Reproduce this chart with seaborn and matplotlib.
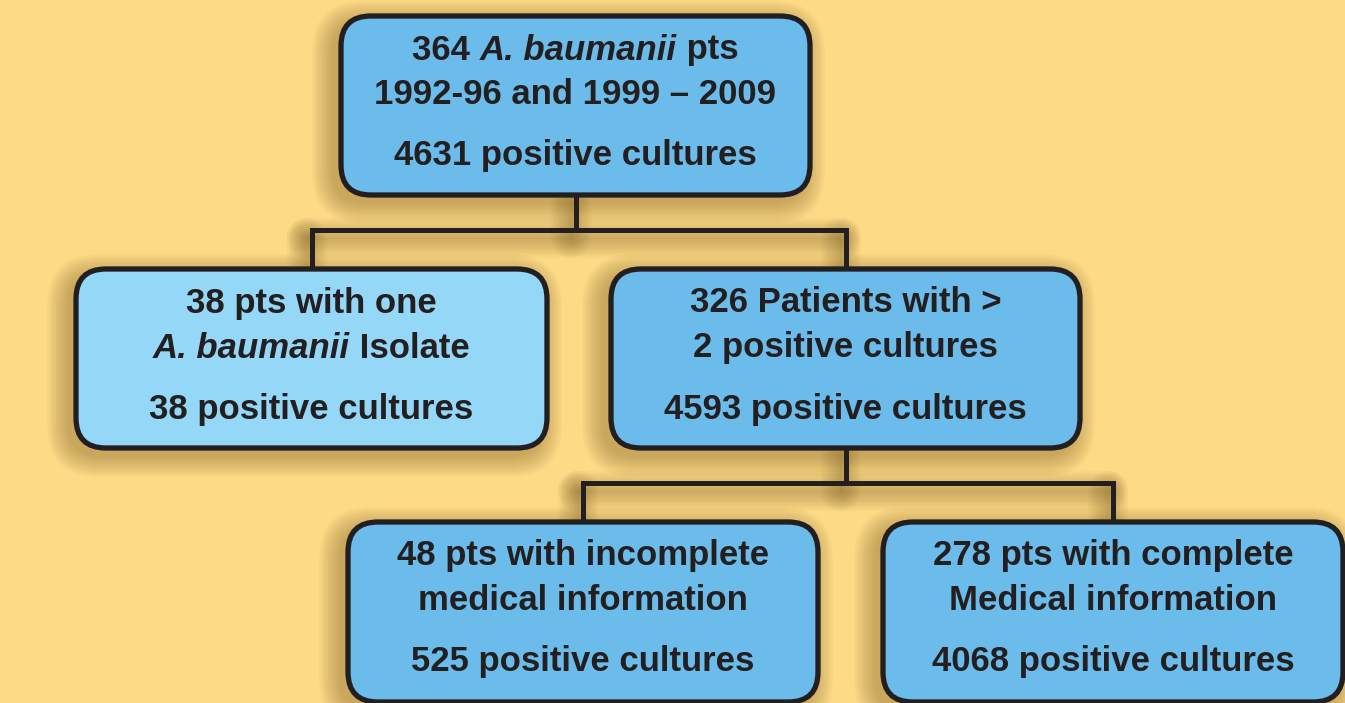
import matplotlib
matplotlib.use("Agg")
import matplotlib.pyplot as plt
import seaborn as sns
from matplotlib.patches import FancyBboxPatch

sns.set_theme(style="white")
plt.rcParams['font.family'] = ['Liberation Sans', 'DejaVu Sans']

# ---- data: node labels (each line is a list of (text, italic) runs) ----
node_ids = ["all", "one", "multi", "incomplete", "complete"]
node_lines = {
    "all": [[("364 ", False), ("A. baumanii", True), (" pts", False)],
            [("1992-96 and 1999 \u2013 2009", False)],
            [("4631 positive cultures", False)]],
    "one": [[("38 pts with one", False)],
            [("A. baumanii", True), (" Isolate", False)],
            [("38 positive cultures", False)]],
    "multi": [[("326 Patients with >", False)],
              [("2 positive cultures", False)],
              [("4593 positive cultures", False)]],
    "incomplete": [[("48 pts with incomplete", False)],
                   [("medical information", False)],
                   [("525 positive cultures", False)]],
    "complete": [[("278 pts with complete", False)],
                 [("Medical information", False)],
                 [("4068 positive cultures", False)]],
}
edges = [("all", "one"), ("all", "multi"), ("multi", "incomplete"), ("multi", "complete")]

# ---- layout (pixels) ----
W, H = 1345, 703
boxes = {  # x0, y0, x1, y1
    "all": (341, 16, 810, 195),
    "one": (76, 269, 547, 448),
    "multi": (611, 269, 1080, 448),
    "incomplete": (348, 522, 818, 702),
    "complete": (883, 522, 1343, 702),
}
fills = {"all": "#6BBCEA", "one": "#95D7F6", "multi": "#6BBCEA",
         "incomplete": "#6BBCEA", "complete": "#6BBCEA"}
line_offsets = [34, 79, 140]
BG = "#FDDA86"
INK = "#231F20"
FS = 25

fig = plt.figure(figsize=(W / 100, H / 100), dpi=100)
fig.patch.set_facecolor(BG)
ax = fig.add_axes([0, 0, 1, 1])
ax.set_xlim(0, W)
ax.set_ylim(H, 0)
ax.axis("off")
ax.set_facecolor(BG)

R = 30
# connectors
def connector(parent, children):
    px0, py0, px1, py1 = boxes[parent]
    pcx = (px0 + px1) / 2
    cy0 = [boxes[c][1] for c in children]
    ymid = (py1 + min(cy0)) / 2 - 2
    cxs = [(boxes[c][0] + boxes[c][2]) / 2 for c in children]
    segs = [([pcx, pcx], [py1, ymid]), ([min(cxs), max(cxs)], [ymid, ymid])]
    for cx, cy in zip(cxs, cy0):
        segs.append(([cx, cx], [ymid, cy]))
    return segs

groups = {}
for p, c in edges:
    groups.setdefault(p, []).append(c)
all_segs = []
for p, cs in groups.items():
    all_segs += connector(p, cs)

# shadows
for k in range(10):
    a = 0.04
    grow = 2 + k * 2.2
    for nid in node_ids:
        x0, y0, x1, y1 = boxes[nid]
        ax.add_patch(FancyBboxPatch((x0 - 7, y0 + 7), x1 - x0, y1 - y0,
                                    boxstyle=f"round,pad={grow},rounding_size={R + grow}",
                                    fc="#6B4E1A", ec="none", alpha=a, zorder=1))
    for xs, ys in all_segs:
        ax.plot([v - 5 for v in xs], [v + 8 for v in ys], color="#6B4E1A",
                alpha=0.035, lw=2 + k * 3, solid_capstyle="round", zorder=1)

for xs, ys in all_segs:
    ax.plot(xs, ys, color=INK, lw=3.6, solid_capstyle="projecting", zorder=2)

for nid in node_ids:
    x0, y0, x1, y1 = boxes[nid]
    ax.add_patch(FancyBboxPatch((x0, y0), x1 - x0, y1 - y0,
                                boxstyle=f"round,pad=0,rounding_size={R}",
                                fc=fills[nid], ec=INK, lw=3.8, zorder=3))

fig.canvas.draw()
renderer = fig.canvas.get_renderer()

def draw_runs(cx, cy, runs):
    texts = []
    for s, it in runs:
        t = ax.text(0, cy, s, fontsize=FS, fontweight="bold",
                    fontstyle="italic" if it else "normal", color=INK,
                    ha="left", va="center", zorder=4)
        texts.append(t)
    widths = [t.get_window_extent(renderer=renderer).width for t in texts]
    total = sum(widths)
    x = cx - total / 2
    for t, w in zip(texts, widths):
        t.set_x(x)
        x += w

for nid in node_ids:
    x0, y0, x1, y1 = boxes[nid]
    cx = (x0 + x1) / 2
    for off, runs in zip(line_offsets, node_lines[nid]):
        draw_runs(cx, y0 + off, runs)

fig.savefig("out.png", dpi=100, facecolor=BG)
